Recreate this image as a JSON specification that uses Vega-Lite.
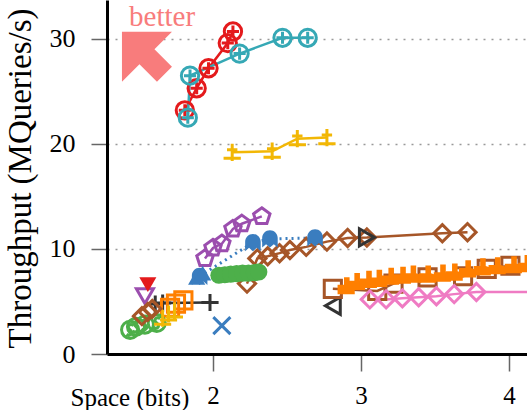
{
  "$schema": "https://vega.github.io/schema/vega-lite/v6.json",
  "width": 420,
  "height": 354,
  "autosize": {"type": "none"},
  "padding": {"left": 107, "top": 0, "right": 0, "bottom": 56},
  "background": "white",
  "config": {"view": {"stroke": null}},
  "data": {"values": [
    {"s": "red", "x": 1.81, "y": 23.2}, {"s": "red", "x": 1.89, "y": 25.3}, {"s": "red", "x": 1.97, "y": 27.2}, {"s": "red", "x": 2.10, "y": 29.6}, {"s": "red", "x": 2.135, "y": 30.7},
    {"s": "teal", "x": 1.83, "y": 22.5}, {"s": "teal", "x": 1.845, "y": 26.5}, {"s": "teal", "x": 2.18, "y": 28.6}, {"s": "teal", "x": 2.47, "y": 30.1}, {"s": "teal", "x": 2.64, "y": 30.1},
    {"s": "gold", "x": 2.13, "y": 19.2}, {"s": "gold", "x": 2.40, "y": 19.3}, {"s": "gold", "x": 2.57, "y": 20.5}, {"s": "gold", "x": 2.77, "y": 20.6},
    {"s": "purple", "x": 1.946, "y": 9.1}, {"s": "purple", "x": 2.0, "y": 10.1}, {"s": "purple", "x": 2.06, "y": 10.5}, {"s": "purple", "x": 2.135, "y": 11.9}, {"s": "purple", "x": 2.195, "y": 12.4}, {"s": "purple", "x": 2.33, "y": 13.1},
    {"s": "blue", "x": 1.91, "y": 7.4}, {"s": "blue", "x": 2.27, "y": 10.6}, {"s": "blue", "x": 2.385, "y": 10.95}, {"s": "blue", "x": 2.69, "y": 11.05},
    {"s": "bluetri", "x": 1.89, "y": 7.3}, {"s": "bluetri", "x": 1.93, "y": 7.7},
    {"s": "brown", "x": 2.23, "y": 6.7}, {"s": "brown", "x": 2.30, "y": 9.1}, {"s": "brown", "x": 2.37, "y": 9.3}, {"s": "brown", "x": 2.45, "y": 9.6}, {"s": "brown", "x": 2.52, "y": 9.9}, {"s": "brown", "x": 2.63, "y": 10.2}, {"s": "brown", "x": 2.77, "y": 10.7}, {"s": "brown", "x": 2.91, "y": 11.05}, {"s": "brown", "x": 3.04, "y": 11.1}, {"s": "brown", "x": 3.55, "y": 11.5}, {"s": "brown", "x": 3.72, "y": 11.6},
    {"s": "dgright", "x": 3.04, "y": 11.1},
    {"s": "dgleft", "x": 2.81, "y": 4.6},
    {"s": "dgplus", "x": 1.61, "y": 4.75}, {"s": "dgplus", "x": 1.66, "y": 4.85}, {"s": "dgplus", "x": 1.98, "y": 4.9},
    {"s": "orangesq", "x": 1.71, "y": 4.4}, {"s": "orangesq", "x": 1.75, "y": 4.8}, {"s": "orangesq", "x": 1.80, "y": 5.1},
    {"s": "orange", "x": 2.90, "y": 6.5}, {"s": "orange", "x": 2.97, "y": 6.9}, {"s": "orange", "x": 3.05, "y": 7.1}, {"s": "orange", "x": 3.12, "y": 7.2}, {"s": "orange", "x": 3.20, "y": 7.4}, {"s": "orange", "x": 3.28, "y": 7.5}, {"s": "orange", "x": 3.35, "y": 7.6}, {"s": "orange", "x": 3.45, "y": 7.6}, {"s": "orange", "x": 3.55, "y": 7.7}, {"s": "orange", "x": 3.63, "y": 7.8}, {"s": "orange", "x": 3.72, "y": 8.1}, {"s": "orange", "x": 3.82, "y": 8.3}, {"s": "orange", "x": 3.92, "y": 8.4}, {"s": "orange", "x": 4.03, "y": 8.5}, {"s": "orange", "x": 4.12, "y": 8.6},
    {"s": "brownsq", "x": 2.81, "y": 6.2}, {"s": "brownsq", "x": 3.11, "y": 6.0}, {"s": "brownsq", "x": 3.22, "y": 6.7}, {"s": "brownsq", "x": 3.45, "y": 7.3}, {"s": "brownsq", "x": 3.69, "y": 7.4}, {"s": "brownsq", "x": 3.85, "y": 8.1}, {"s": "brownsq", "x": 4.01, "y": 8.4}, {"s": "brownsq", "x": 4.2, "y": 8.5},
    {"s": "pink", "x": 3.06, "y": 5.2}, {"s": "pink", "x": 3.17, "y": 5.2}, {"s": "pink", "x": 3.28, "y": 5.3}, {"s": "pink", "x": 3.39, "y": 5.4}, {"s": "pink", "x": 3.51, "y": 5.5}, {"s": "pink", "x": 3.63, "y": 5.7}, {"s": "pink", "x": 3.78, "y": 5.9}, {"s": "pink", "x": 4.5, "y": 5.9},
    {"s": "green", "x": 1.44, "y": 2.3}, {"s": "green", "x": 1.48, "y": 2.6}, {"s": "green", "x": 1.54, "y": 2.8}, {"s": "green", "x": 1.62, "y": 2.95},
    {"s": "greenblob", "x": 2.04, "y": 7.5}, {"s": "greenblob", "x": 2.08, "y": 7.55}, {"s": "greenblob", "x": 2.12, "y": 7.6}, {"s": "greenblob", "x": 2.16, "y": 7.65}, {"s": "greenblob", "x": 2.20, "y": 7.7}, {"s": "greenblob", "x": 2.24, "y": 7.7}, {"s": "greenblob", "x": 2.28, "y": 7.75}, {"s": "greenblob", "x": 2.31, "y": 7.8},
    {"s": "redtri", "x": 1.56, "y": 6.6},
    {"s": "purpletri", "x": 1.54, "y": 5.5},
    {"s": "bluex", "x": 2.06, "y": 2.7},
    {"s": "goldsmall", "x": 1.66, "y": 3.4}, {"s": "goldsmall", "x": 1.70, "y": 3.8}, {"s": "goldsmall", "x": 1.74, "y": 4.1},
    {"s": "brownsmall", "x": 1.52, "y": 3.6}, {"s": "brownsmall", "x": 1.56, "y": 4.0}, {"s": "brownsmall", "x": 1.59, "y": 4.3}
  ]},
  "encoding": {
    "x": {"field": "x", "type": "quantitative",
      "scale": {"domain": [1.284, 4.122], "nice": false, "zero": false},
      "axis": {"values": [2, 3, 4], "grid": false, "domainColor": "black", "domainWidth": 3,
        "tickColor": "#666", "tickSize": 17, "tickWidth": 1.5,
        "labelFont": "Liberation Serif", "labelFontSize": 25, "labelColor": "black", "labelPadding": 12,
        "title": "Space (bits)", "titleFont": "Liberation Serif", "titleFontSize": 25, "titleFontWeight": "normal", "titleColor": "black",
        "titleX": -37, "titleY": 51, "titleAlign": "left", "titleBaseline": "alphabetic", "titleAnchor": null}},
    "y": {"field": "y", "type": "quantitative",
      "scale": {"domain": [0, 33.7], "nice": false},
      "axis": {"values": [0, 10, 20, 30], "grid": true, "gridDash": [2, 6], "gridColor": "#999", "gridWidth": 1.5,
        "domainColor": "black", "domainWidth": 3,
        "tickColor": "#666", "tickSize": 16, "tickWidth": 1.5,
        "labelFont": "Liberation Serif", "labelFontSize": 26, "labelColor": "black", "labelPadding": 16,
        "title": "Throughput (MQueries/s)", "titleFont": "Liberation Serif", "titleFontSize": 33, "titleFontWeight": "normal", "titleColor": "black",
        "titleX": -87, "titleY": 178, "titleAngle": -90, "titleAlign": "center", "titleBaseline": "middle"}},
    "color": {"field": "s", "type": "nominal", "legend": null,
      "scale": {
        "domain": ["red", "teal", "gold", "purple", "blue", "bluetri", "brown", "dgright", "dgleft", "dgplus", "orangesq", "orange", "brownsq", "pink", "green", "greenblob", "redtri", "purpletri", "bluex", "goldsmall", "brownsmall"],
        "range": ["#E41A1C", "#35A8B5", "#F2B705", "#9B4EAE", "#3A7DBF", "#3A7DBF", "#A65628", "#333333", "#333333", "#333333", "#FF7F00", "#FF7F00", "#A65628", "#EF7BC3", "#4DAF4A", "#4DAF4A", "#E41A1C", "#9B4EAE", "#3A7DBF", "#F2B705", "#A65628"]}}
  },
  "layer": [
    {
      "transform": [{"filter": {"field": "s", "oneOf": ["red", "teal", "gold", "purple", "brown", "dgplus", "brownsq", "pink", "greenblob"]}}],
      "mark": {"type": "line", "strokeWidth": 2.5, "clip": true},
      "encoding": {"detail": {"field": "s"}}
    },
    {
      "transform": [{"filter": {"field": "s", "equal": "blue"}}],
      "mark": {"type": "line", "strokeWidth": 3, "strokeDash": [2, 4], "clip": true},
      "encoding": {}
    },
    {
      "transform": [{"filter": {"field": "s", "oneOf": ["gold", "purple", "brown", "dgright", "dgleft", "dgplus", "orangesq", "brownsq", "pink", "green", "purpletri", "bluex", "goldsmall", "brownsmall", "red", "teal"]}}],
      "mark": {"type": "point", "filled": false, "strokeWidth": 3, "opacity": 1, "clip": true},
      "encoding": {
        "shape": {"field": "s", "type": "nominal", "legend": null, "scale": {
          "domain": ["red", "teal", "gold", "purple", "blue", "bluetri", "brown", "dgright", "dgleft", "dgplus", "orangesq", "orange", "brownsq", "pink", "green", "greenblob", "redtri", "purpletri", "bluex", "goldsmall", "brownsmall"],
          "range": [
            "M-1,0A1,1,0,1,1,1,0A1,1,0,1,1,-1,0ZM-0.7,0L0.7,0M0,-0.7L0,0.7",
            "M-1,0A1,1,0,1,1,1,0A1,1,0,1,1,-1,0ZM-0.7,0L0.7,0M0,-0.7L0,0.7",
            "M0,-1L0,1M-1,0.7L1,0.7M-0.6,-0.3L0.6,-0.3",
            "M0,-1L0.951,-0.309L0.588,0.809L-0.588,0.809L-0.951,-0.309Z",
            "M-0.9,1L-0.9,-0.1A0.9,0.9,0,0,1,0.9,-0.1L0.9,1L0.45,0.6L0,1L-0.45,0.6Z",
            "triangle-up",
            "diamond",
            "triangle-right",
            "triangle-left",
            "M-1,0L1,0M0,-1L0,1",
            "square",
            "M-1,1L-1,-0.1L-0.25,-0.1L-0.25,-1L0.4,-1L0.4,-0.1L1,0.1L1,1Z",
            "square",
            "diamond",
            "M-1,0A1,1,0,1,1,1,0A1,1,0,1,1,-1,0ZM0.4,-0.5C0,-0.8,-0.5,-0.4,0,0C0.5,0.4,0,0.8,-0.4,0.5",
            "circle",
            "triangle-down",
            "triangle-down",
            "M-1,-1L1,1M-1,1L1,-1",
            "M0,-1L0,1M-1,0.7L1,0.7",
            "diamond"]}},
        "size": {"field": "s", "type": "nominal", "legend": null, "scale": {
          "domain": ["red", "teal", "gold", "purple", "blue", "bluetri", "brown", "dgright", "dgleft", "dgplus", "orangesq", "orange", "brownsq", "pink", "green", "greenblob", "redtri", "purpletri", "bluex", "goldsmall", "brownsmall"],
          "range": [300, 290, 200, 260, 280, 140, 200, 220, 220, 250, 180, 300, 190, 170, 260, 330, 240, 260, 120, 120, 110]}}
      }
    },
    {
      "transform": [{"filter": {"field": "s", "oneOf": ["blue", "bluetri", "orange", "greenblob", "redtri"]}}],
      "mark": {"type": "point", "filled": true, "opacity": 1, "clip": true},
      "encoding": {
        "shape": {"field": "s", "type": "nominal", "legend": null},
        "size": {"field": "s", "type": "nominal", "legend": null}
      }
    },
    {
      "data": {"values": [{"x": 1.554, "y": 28.3}]},
      "mark": {"type": "point", "filled": true, "opacity": 1, "color": "#F87C7C", "size": 2500,
        "shape": "M-1,-1L1,-1L0.3,-0.3L1,0.4L0.4,1L-0.3,0.3L-1,1Z"},
      "encoding": {"color": {"value": "#F87C7C"}}
    },
    {
      "data": {"values": [{"x": 1.656, "y": 31.2, "label": "better"}]},
      "mark": {"type": "text", "font": "Liberation Serif", "fontSize": 29, "align": "center", "baseline": "alphabetic"},
      "encoding": {"text": {"field": "label"}, "color": {"value": "#F87C7C"}}
    }
  ]
}
